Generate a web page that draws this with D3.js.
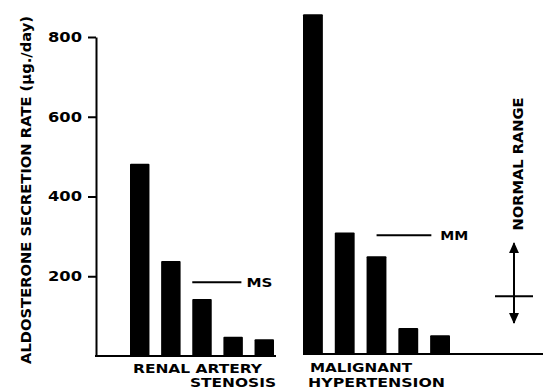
<!DOCTYPE html>
<html>
<head>
<meta charset="utf-8">
<script src="https://d3js.org/d3.v7.min.js"></script>
<style>
  body { margin: 0; background: #fff; }
  text { font-family: "DejaVu Sans", sans-serif; font-weight: bold; fill: #000; }
</style>
</head>
<body>
<svg id="chart" width="543" height="390"></svg>
<script>
// values (aldosterone secretion rate, ug/day)
var renalValues = [482, 238, 143, 48, 42];
var malignantValues = [857, 310, 250, 70, 52];
var yTicks = [200, 400, 600, 800];
var msMean = 185, mmMean = 303;
var normalRange = [83, 283], normalMean = 150;

var svg = d3.select('#chart'),
    ink = '#000';

var y = d3.scaleLinear().domain([0, 800]).range([356, 37]);

// one band scale per group of patients
var xRenal = d3.scaleBand().domain(d3.range(renalValues.length))
                .range([130, 274]).paddingInner(0.375).paddingOuter(0);
var xMalig = d3.scaleBand().domain(d3.range(malignantValues.length))
                .range([303, 450]).paddingInner(0.375).paddingOuter(0);

// y axis
var yAxis = d3.axisLeft(y).tickValues(yTicks).tickSize(8).tickSizeOuter(0).tickPadding(6);
var gAxis = svg.append('g').attr('transform', 'translate(96,0)').call(yAxis);
gAxis.select('.domain').attr('stroke', ink).attr('stroke-width', 2);
gAxis.selectAll('.tick line').attr('stroke', ink).attr('stroke-width', 2);
gAxis.selectAll('.tick text').attr('font-size', 14).attr('fill', ink)
     .attr('font-family', '"DejaVu Sans", sans-serif').attr('font-weight', 'bold')
     .attr('textLength', 34).attr('lengthAdjust', 'spacingAndGlyphs');

svg.append('text')
    .attr('transform', 'translate(26,190) rotate(-90)')
    .attr('text-anchor', 'middle').attr('dominant-baseline', 'central')
    .attr('font-size', 14.5)
    .attr('textLength', 348).attr('lengthAdjust', 'spacingAndGlyphs')
    .text('ALDOSTERONE SECRETION RATE (\u03bcg./day)');

// baselines
svg.append('line').attr('x1', 95).attr('x2', 276).attr('y1', y(0)).attr('y2', y(0))
    .attr('stroke', ink).attr('stroke-width', 2);
svg.append('line').attr('x1', 303).attr('x2', 543).attr('y1', y(0) - 2).attr('y2', y(0) - 2)
    .attr('stroke', ink).attr('stroke-width', 2);

// bars
svg.append('g').selectAll('rect').data(renalValues).join('rect')
    .attr('x', function(d, i) { return xRenal(i); })
    .attr('width', xRenal.bandwidth())
    .attr('y', function(d) { return y(d); })
    .attr('height', function(d) { return y(0) - y(d); })
    .attr('rx', 1).attr('fill', ink);

svg.append('g').selectAll('rect').data(malignantValues).join('rect')
    .attr('x', function(d, i) { return xMalig(i); })
    .attr('width', xMalig.bandwidth())
    .attr('y', function(d) { return y(d); })
    .attr('height', function(d) { return y(0) - 2 - y(d); })
    .attr('rx', 1).attr('fill', ink);

// group means
svg.append('line').attr('x1', xRenal(2)).attr('x2', xRenal(3) + 18)
    .attr('y1', y(msMean)).attr('y2', y(msMean)).attr('stroke', ink).attr('stroke-width', 2);
svg.append('text').attr('x', xRenal(3) + 23).attr('y', y(msMean))
    .attr('dominant-baseline', 'central').attr('font-size', 13)
    .attr('textLength', 26).attr('lengthAdjust', 'spacingAndGlyphs').text('MS');

svg.append('line').attr('x1', xMalig(2) + 10).attr('x2', xMalig(3) + 33)
    .attr('y1', y(mmMean)).attr('y2', y(mmMean)).attr('stroke', ink).attr('stroke-width', 2);
svg.append('text').attr('x', xMalig(3) + 42).attr('y', y(mmMean))
    .attr('dominant-baseline', 'central').attr('font-size', 13)
    .attr('textLength', 28).attr('lengthAdjust', 'spacingAndGlyphs').text('MM');

// normal range marker
var nx = 514;
svg.append('defs').append('marker')
    .attr('id', 'head').attr('viewBox', '0 0 10 10').attr('refX', 9).attr('refY', 5)
    .attr('markerWidth', 5.5).attr('markerHeight', 5.5).attr('orient', 'auto-start-reverse')
    .append('path').attr('d', 'M0,0.5 L10,5 L0,9.5 Z').attr('fill', ink);
svg.append('line').attr('x1', nx).attr('x2', nx)
    .attr('y1', y(normalRange[1])).attr('y2', y(normalRange[0]))
    .attr('stroke', ink).attr('stroke-width', 2)
    .attr('marker-start', 'url(#head)').attr('marker-end', 'url(#head)');
svg.append('line').attr('x1', nx - 19).attr('x2', nx + 19)
    .attr('y1', y(normalMean)).attr('y2', y(normalMean))
    .attr('stroke', ink).attr('stroke-width', 2);
svg.append('text')
    .attr('transform', 'translate(518,164) rotate(-90)')
    .attr('text-anchor', 'middle').attr('dominant-baseline', 'central')
    .attr('font-size', 13.5)
    .attr('textLength', 133).attr('lengthAdjust', 'spacingAndGlyphs')
    .text('NORMAL RANGE');

// group labels
function label(txt, x, yy, len) {
    svg.append('text').attr('x', x).attr('y', yy).attr('font-size', 12)
        .attr('textLength', len).attr('lengthAdjust', 'spacingAndGlyphs').text(txt);
}
label('RENAL ARTERY', 133, 373, 129);
label('STENOSIS', 190, 387, 86);
label('MALIGNANT', 310, 372, 102);
label('HYPERTENSION', 308, 387, 137);
</script>
</body>
</html>
